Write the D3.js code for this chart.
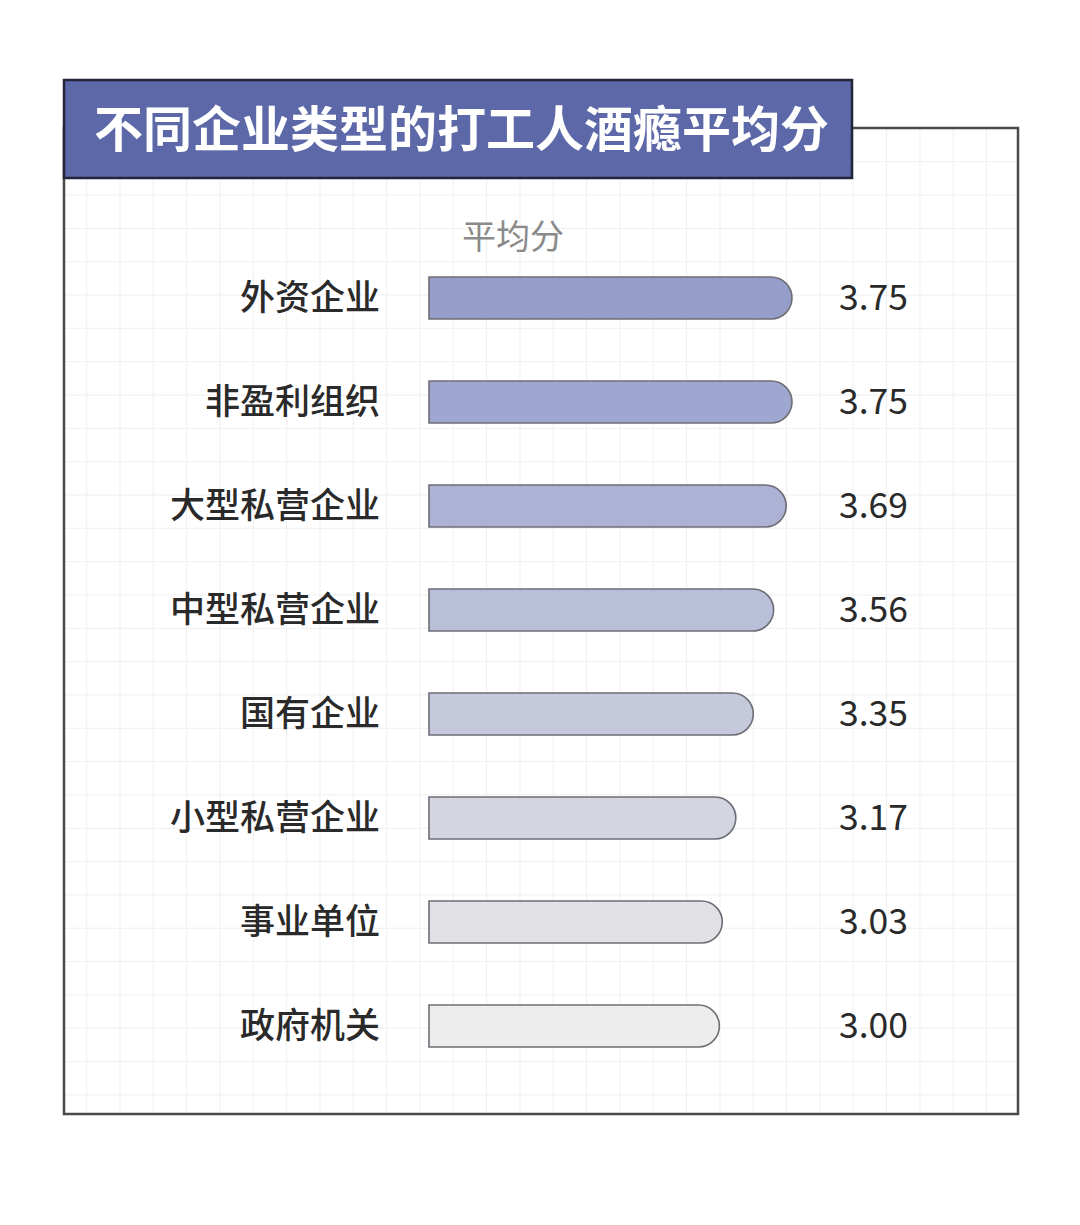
<!DOCTYPE html>
<html><head><meta charset="utf-8">
<script src="https://cdn.jsdelivr.net/npm/d3@7"></script>
<style>
html,body{margin:0;padding:0;background:#fff;}
svg{display:block;}
text{font-family:"Noto Sans CJK SC","Noto Sans",sans-serif;}
</style></head>
<body>
<script>
const title = "不同企业类型的打工人酒瘾平均分";
const axisTitle = "平均分";
const categories = ["外资企业","非盈利组织","大型私营企业","中型私营企业","国有企业","小型私营企业","事业单位","政府机关"];
const values = [3.75, 3.75, 3.69, 3.56, 3.35, 3.17, 3.03, 3.00];
const valueLabels = ["3.75","3.75","3.69","3.56","3.35","3.17","3.03","3.00"];
const barColors = ["#959ec9","#9ea7cf","#adb1d4","#b9bfd8","#c6c9dc","#d3d5e1","#e0e0e5","#ededee"];

const W = 1080, H = 1225;
const svg = d3.select("body").append("svg").attr("width", W).attr("height", H);

// frame
const frame = {x0: 64, x1: 1018, y0: 128, y1: 1114};
// grid
const grid = svg.append("g");
const step = 33.33;
for (let x = 20 + step; x < frame.x1; x += step) {
  if (x <= frame.x0) continue;
  grid.append("line").attr("x1", x).attr("x2", x).attr("y1", frame.y0).attr("y2", frame.y1)
    .attr("stroke", "#efefef").attr("stroke-width", 1);
}
for (let y = 195 - step * 2; y < frame.y1; y += step) {
  if (y <= frame.y0) continue;
  grid.append("line").attr("x1", frame.x0).attr("x2", frame.x1).attr("y1", y).attr("y2", y)
    .attr("stroke", "#efefef").attr("stroke-width", 1);
}
svg.append("rect").attr("x", frame.x0).attr("y", frame.y0)
  .attr("width", frame.x1 - frame.x0).attr("height", frame.y1 - frame.y0)
  .attr("fill", "none").attr("stroke", "#4a4a4a").attr("stroke-width", 2.5);

// title box
svg.append("rect").attr("x", 64).attr("y", 80).attr("width", 788).attr("height", 98)
  .attr("fill", "#5c68a8").attr("stroke", "#23253a").attr("stroke-width", 2.5);
svg.append("text").attr("x", 94).attr("y", 130).attr("dy", "0.35em")
  .attr("fill", "#fff").attr("font-size", 49).attr("font-weight", 700)
  .text(title);

// scales
const x = d3.scaleLinear().domain([0, 3.75]).range([429, 792]);
const y = d3.scaleBand().domain(categories).range([246, 1078]).paddingInner(0.596).paddingOuter(0.298);

svg.append("text").attr("x", 513).attr("y", 237).attr("dy", "0.35em")
  .attr("text-anchor", "middle").attr("fill", "#8a8a8a").attr("font-size", 34)
  .text(axisTitle);

const bh = y.bandwidth();
function barPath(v, cat) {
  const x0 = x(0), x1 = x(v), y0 = y(cat), r = bh / 2;
  return `M${x0},${y0} L${x1 - r},${y0} A${r},${r} 0 0 1 ${x1 - r},${y0 + bh} L${x0},${y0 + bh} Z`;
}

const rows = svg.append("g").selectAll("g").data(categories).join("g");
rows.append("path")
  .attr("d", (c, i) => barPath(values[i], c))
  .attr("fill", (c, i) => barColors[i])
  .attr("stroke", "#6d6d75").attr("stroke-width", 1.6);
rows.append("text")
  .attr("x", 380).attr("y", c => y(c) + bh / 2).attr("dy", "0.35em")
  .attr("text-anchor", "end").attr("fill", "#2a2a2a").attr("font-size", 35).attr("font-weight", 500)
  .text(c => c);
rows.append("text")
  .attr("x", 839).attr("y", c => y(c) + bh / 2).attr("dy", "0.35em")
  .attr("fill", "#2a2a2a").attr("font-size", 35.5)
  .text((c, i) => valueLabels[i]);
</script>
</body></html>
